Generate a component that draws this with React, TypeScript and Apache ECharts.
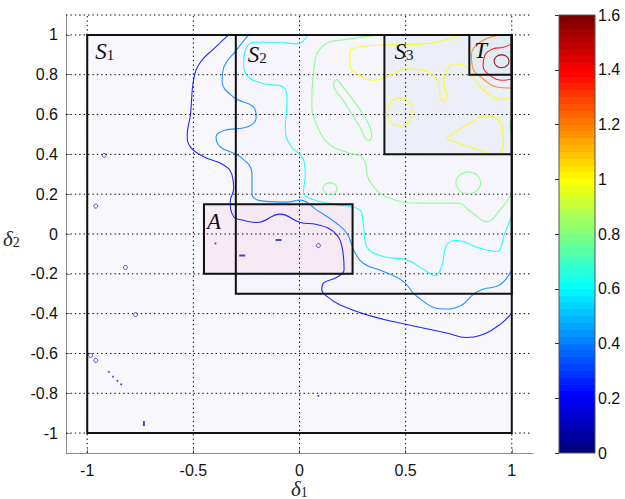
import React, { useEffect, useRef } from "react";
import * as echarts from "echarts";

// ---------- data ----------
const xTickValues = [-1, -0.5, 0, 0.5, 1];
const yTickValues = [-1, -0.8, -0.6, -0.4, -0.2, 0, 0.2, 0.4, 0.6, 0.8, 1];
const axisMin = -1.1;
const axisMax = 1.1;
const colorbarMin = 0;
const colorbarMax = 1.6;

// rectangles (x0, y0, x1, y1)
const regionNames = ["S1", "S2", "S3", "T", "A"];
const regionX0 = [-1, -0.3, 0.4, 0.8, -0.45];
const regionY0 = [-1, -0.3, 0.4, 0.8, -0.2];
const regionX1 = [1, 1, 1, 1, 0.25];
const regionY1 = [1, 1, 1, 1, 0.15];

// contour pieces
const contour02 = [[-0.334,1.0],[-0.404,0.93],[-0.467,0.863],[-0.498,0.78],[-0.514,0.597],[-0.529,0.497],[-0.514,0.438],[-0.451,0.388],[-0.357,0.347],[-0.318,0.297],[-0.31,0.23],[-0.326,0.163],[-0.31,0.087],[-0.27,0.07],[-0.2,0.058],[-0.091,0.1],[0.003,0.058],[0.082,0.048],[0.16,0.012],[0.2,-0.063],[0.21,-0.18],[0.176,-0.217],[0.113,-0.247],[0.105,-0.28],[0.129,-0.313],[0.19,-0.355],[0.33,-0.41],[0.473,-0.447],[0.693,-0.497],[0.787,-0.52],[0.85,-0.51],[0.944,-0.455],[1.0,-0.397]];
const contour04 = [[-0.24,1.0],[-0.3,0.92],[-0.357,0.837],[-0.365,0.77],[-0.31,0.687],[-0.216,0.637],[-0.204,0.587],[-0.247,0.537],[-0.357,0.52],[-0.393,0.487],[-0.373,0.437],[-0.279,0.387],[-0.224,0.303],[-0.224,0.203],[-0.169,0.165],[-0.059,0.16],[0.003,0.17],[0.082,0.12],[0.176,0.053],[0.225,0.0],[0.26,-0.09],[0.3,-0.147],[0.395,-0.188],[0.489,-0.238],[0.552,-0.313],[0.677,-0.377],[0.755,-0.363],[0.826,-0.297],[0.865,-0.277],[0.944,-0.255],[1.0,-0.18]];
const contour06 = [[0.04,1.0],[-0.012,0.955],[-0.106,0.963],[-0.216,0.963],[-0.263,0.863],[-0.247,0.797],[-0.169,0.755],[-0.075,0.738],[-0.059,0.663],[-0.067,0.53],[-0.044,0.447],[0.019,0.372],[0.027,0.297],[0.019,0.213],[0.066,0.172],[0.176,0.147],[0.285,0.12],[0.3,0.053],[0.317,-0.063],[0.395,-0.113],[0.505,-0.13],[0.599,-0.188],[0.638,-0.21],[0.67,-0.163],[0.693,-0.055],[0.74,-0.033],[0.85,-0.072],[0.928,-0.088],[0.967,0.003],[1.0,0.095]];
const contour08 = [[0.38,1.0],[0.3,0.99],[0.238,0.98],[0.113,0.947],[0.066,0.813],[0.058,0.647],[0.089,0.53],[0.144,0.447],[0.238,0.405],[0.3,0.38],[0.332,0.263],[0.426,0.18],[0.58,0.155],[0.74,0.155],[0.818,0.103],[0.881,0.062],[0.944,0.12],[1.0,0.203]];
const contour08Loop = [[0.176,0.778],[0.254,0.67],[0.317,0.57],[0.34,0.487],[0.324,0.47],[0.285,0.537],[0.207,0.67],[0.16,0.753],[0.176,0.778]];
const contour08Small = [[0.144,0.258],[0.168,0.248],[0.177,0.228],[0.168,0.208],[0.144,0.198],[0.12,0.208],[0.111,0.228],[0.12,0.248],[0.144,0.258]];
const contour08Right = [[0.795,0.312],[0.836,0.296],[0.853,0.257],[0.836,0.218],[0.795,0.202],[0.754,0.218],[0.737,0.257],[0.754,0.296],[0.795,0.312]];
const contour08Edge = [[1.0,0.58],[0.992,0.54],[1.0,0.49]];
const contour10 = [[0.755,1.0],[0.583,0.955],[0.348,0.947],[0.238,0.913],[0.238,0.847],[0.285,0.797],[0.348,0.772],[0.426,0.797],[0.505,0.83],[0.583,0.822],[0.638,0.788],[0.661,0.738],[0.661,0.688],[0.68,0.667],[0.696,0.697],[0.68,0.747],[0.693,0.822],[0.732,0.855],[0.787,0.838],[0.834,0.763],[0.897,0.697],[0.96,0.677],[1.0,0.688]];
const contour10Circle = [[0.473,0.685],[0.515,0.665],[0.531,0.613],[0.515,0.56],[0.473,0.541],[0.43,0.56],[0.415,0.613],[0.43,0.665],[0.473,0.685]];
const contour10Drop = [[0.693,0.483],[0.787,0.547],[0.881,0.593],[0.928,0.58],[0.956,0.53],[0.96,0.463],[0.944,0.405],[0.912,0.4],[0.85,0.422],[0.771,0.447],[0.709,0.472],[0.693,0.483]];
const contour12 = [[0.944,1.0],[0.85,0.963],[0.81,0.897],[0.818,0.83],[0.865,0.78],[0.928,0.738],[1.0,0.733]];
const contour14 = [[1.0,0.955],[0.96,0.938],[0.912,0.93],[0.873,0.897],[0.865,0.847],[0.897,0.797],[0.96,0.772],[1.0,0.78]];
const contour16 = [[0.952,0.901],[0.977,0.891],[0.987,0.868],[0.977,0.845],[0.952,0.835],[0.927,0.845],[0.917,0.868],[0.927,0.891],[0.952,0.901]];

const contourLevels = [0.2, 0.4, 0.6, 0.8, 0.8, 0.8, 0.8, 0.8, 1.0, 1.0, 1.0, 1.2, 1.4, 1.6];
const contourPieces = [contour02, contour04, contour06, contour08, contour08Loop, contour08Small, contour08Right, contour08Edge, contour10, contour10Circle, contour10Drop, contour12, contour14, contour16];

// tiny 0.2-level islands
const islandRings = [[-0.92,0.395],[-0.96,0.14],[-0.82,-0.168],[-0.772,-0.405],[-0.984,-0.61],[-0.96,-0.635],[0.089,-0.058]];
const islandDots = [[-0.898,-0.693],[-0.879,-0.717],[-0.858,-0.738],[-0.84,-0.755],[-0.396,-0.047],[0.089,-0.813]];
const islandDashes = [[-0.099,-0.03],[-0.27,-0.108]];
const islandBars = [[-0.733,-0.952]];

// ---------- styles ----------
const regionFills = [
  "rgba(180,180,230,0.10)",
  "rgba(180,180,230,0.03)",
  "rgba(160,180,220,0.09)",
  "rgba(140,230,200,0.10)",
  "rgba(247,150,200,0.12)",
];
const regionLabelOffsets = [[8, 4], [12, 7], [10, 4], [5, 3], [3, 5]];

function clamp01(v: number) { return Math.max(0, Math.min(1, v)); }
function jet(t: number) {
  const r = clamp01(1.5 - Math.abs(4 * t - 3));
  const g = clamp01(1.5 - Math.abs(4 * t - 2));
  const b = clamp01(1.5 - Math.abs(4 * t - 1));
  return `rgb(${Math.round(r * 255)},${Math.round(g * 255)},${Math.round(b * 255)})`;
}

const serif = "Liberation Serif";
const sans = "Liberation Sans";

function labelRich(name: string) {
  const main = name.charAt(0);
  const sub = name.slice(1);
  return sub ? `{m|${main}}{s|${sub}}` : `{m|${main}}`;
}

export default function App() {
  const ref = useRef<HTMLDivElement>(null);
  useEffect(() => {
    if (!ref.current) return;
    const chart = echarts.init(ref.current, null, { renderer: "svg" });

    const regionData = regionNames.map((_, i) => [regionX0[i], regionY0[i], regionX1[i], regionY1[i], i]);

    const gridSeries = [
      ...xTickValues.map((v) => [[v, axisMin], [v, axisMax]]),
      ...[...yTickValues, axisMax].map((v) => [[axisMin, v], [axisMax - 0.012, v]]),
    ].map((pts) => ({
      type: "line", xAxisIndex: 0, yAxisIndex: 0, z: 2, silent: true, clip: false,
      data: pts, showSymbol: false, symbol: "none",
      lineStyle: { color: "#000", width: 1, type: [1.4, 3] },
    }));

    const bandStops: { offset: number; color: string }[] = [];
    const nb = 64;
    for (let i = 0; i < nb; i++) {
      const c = jet(i / (nb - 1));
      bandStops.push({ offset: i / nb, color: c });
      bandStops.push({ offset: (i + 1) / nb, color: c });
    }

    const rich = {
      m: { fontFamily: serif, fontStyle: "italic", fontSize: 23, fill: "#111", color: "#111", lineHeight: 24, verticalAlign: "bottom" },
      s: { fontFamily: serif, fontSize: 15, fill: "#111", color: "#111", lineHeight: 10, verticalAlign: "bottom" },
    };

    const option: any = {
      animation: false,
      backgroundColor: "#ffffff",
      grid: [
        { left: 66, top: 15, width: 467, height: 438 },
        { left: 559, top: 15, width: 36, height: 438 },
      ],
      xAxis: [
        {
          type: "value", gridIndex: 0, min: axisMin, max: axisMax,
          axisLine: { show: true, onZero: false, lineStyle: { color: "#8a8a8a", width: 1 } },
          axisTick: { show: true, inside: true, length: 4, customValues: xTickValues, lineStyle: { color: "#8a8a8a" } },
          axisLabel: { customValues: xTickValues, fontFamily: sans, fontSize: 16, color: "#111", margin: 9 },
          splitLine: { show: false },
        },
        { type: "value", gridIndex: 1, min: 0, max: 1, show: false },
      ],
      yAxis: [
        {
          type: "value", gridIndex: 0, min: axisMin, max: axisMax,
          axisLine: { show: true, onZero: false, lineStyle: { color: "#8a8a8a", width: 1 } },
          axisTick: { show: true, inside: true, length: 4, customValues: yTickValues, lineStyle: { color: "#8a8a8a" } },
          axisLabel: { customValues: yTickValues, fontFamily: sans, fontSize: 16, color: "#111", margin: 8 },
          splitLine: { show: false },
        },
        {
          type: "value", gridIndex: 1, min: colorbarMin, max: colorbarMax, interval: 0.2, position: "right", z: 3,
          axisLine: { show: false },
          axisTick: { show: true, inside: true, length: 4, lineStyle: { color: "#333" } },
          axisLabel: { fontFamily: sans, fontSize: 16, color: "#111", margin: 3 },
          splitLine: { show: false },
        },
      ],
      series: [
        {
          type: "custom", xAxisIndex: 0, yAxisIndex: 0, z: 1, silent: true,
          data: regionData,
          renderItem: (params: any, api: any) => {
            const i = api.value(4);
            const p0 = api.coord([api.value(0), api.value(3)]);
            const p1 = api.coord([api.value(2), api.value(1)]);
            return { type: "rect", shape: { x: p0[0], y: p0[1], width: p1[0] - p0[0], height: p1[1] - p0[1] }, style: { fill: regionFills[i] } };
          },
        },
        ...gridSeries,
        ...contourPieces.map((pts, k) => ({
          type: "line", xAxisIndex: 0, yAxisIndex: 0, z: 3, silent: true,
          data: pts, showSymbol: false, symbol: "none", smooth: 0.45,
          lineStyle: { color: jet(contourLevels[k] / colorbarMax), width: 1.1, opacity: 0.85 },
        })),
        {
          type: "scatter", xAxisIndex: 0, yAxisIndex: 0, z: 3, silent: true, data: islandRings,
          symbol: "circle", symbolSize: 4, itemStyle: { color: "rgba(255,255,255,0)", borderColor: "#2a2ad0", borderWidth: 1 },
        },
        {
          type: "scatter", xAxisIndex: 0, yAxisIndex: 0, z: 3, silent: true, data: islandDots,
          symbol: "circle", symbolSize: 2, itemStyle: { color: "#2a2ad0" },
        },
        {
          type: "scatter", xAxisIndex: 0, yAxisIndex: 0, z: 3, silent: true, data: islandDashes,
          symbol: "rect", symbolSize: [6, 2], itemStyle: { color: "#1a1ab0" },
        },
        {
          type: "scatter", xAxisIndex: 0, yAxisIndex: 0, z: 3, silent: true, data: islandBars,
          symbol: "rect", symbolSize: [2, 5], itemStyle: { color: "#1a1ab0" },
        },
        {
          type: "custom", xAxisIndex: 0, yAxisIndex: 0, z: 5, silent: true,
          data: regionData,
          renderItem: (params: any, api: any) => {
            const i = api.value(4);
            const p0 = api.coord([api.value(0), api.value(3)]);
            const p1 = api.coord([api.value(2), api.value(1)]);
            const off = regionLabelOffsets[i];
            return {
              type: "group",
              children: [
                { type: "rect", shape: { x: p0[0], y: p0[1], width: p1[0] - p0[0], height: p1[1] - p0[1] }, style: { fill: "none", stroke: "#111", lineWidth: 2 } },
                { type: "text", x: p0[0] + off[0], y: p0[1] + off[1], style: { text: labelRich(regionNames[i]), rich, fill: "#111" } },
              ],
            };
          },
        },
        {
          type: "custom", xAxisIndex: 1, yAxisIndex: 1, z: 2, silent: true,
          data: [[colorbarMin, colorbarMax]],
          renderItem: (params: any, api: any) => {
            const p0 = api.coord([0, api.value(1)]);
            const p1 = api.coord([1, api.value(0)]);
            return {
              type: "rect",
              shape: { x: p0[0], y: p0[1], width: p1[0] - p0[0], height: p1[1] - p0[1] },
              style: { fill: new echarts.graphic.LinearGradient(0, 1, 0, 0, bandStops), stroke: "#555", lineWidth: 1 },
            };
          },
        },
      ],
      graphic: [
        {
          type: "text", left: 291, top: 478, silent: true,
          style: {
            text: "{d|δ}{s|1}",
            rich: {
              d: { fontFamily: serif, fontStyle: "italic", fontSize: 21, fill: "#222", lineHeight: 18, verticalAlign: "bottom" },
              s: { fontFamily: serif, fontSize: 14, fill: "#222", lineHeight: 10, verticalAlign: "bottom" },
            },
          },
        },
        {
          type: "text", left: 3, top: 228, silent: true,
          style: {
            text: "{d|δ}{s|2}",
            rich: {
              d: { fontFamily: serif, fontStyle: "italic", fontSize: 21, fill: "#222", lineHeight: 18, verticalAlign: "bottom" },
              s: { fontFamily: serif, fontSize: 14, fill: "#222", lineHeight: 10, verticalAlign: "bottom" },
            },
          },
        },
      ],
    };
    chart.setOption(option);
    return () => chart.dispose();
  }, []);
  return <div ref={ref} style={{ position: "absolute", left: 0, top: 0, width: 625, height: 499 }} />;
}
